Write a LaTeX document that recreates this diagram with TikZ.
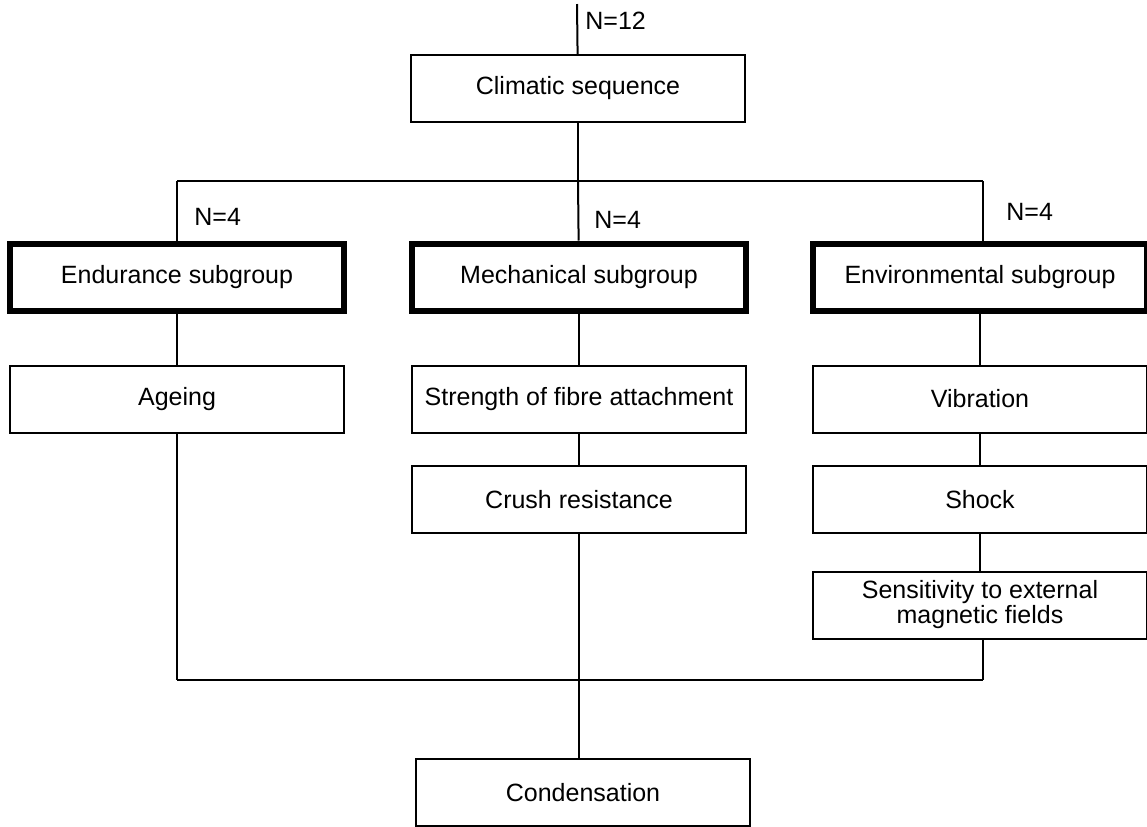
\documentclass[tikz,border=0pt]{standalone}
\usepackage{fontspec}
\setmainfont{Liberation Sans}
\usepackage{tikz}
\usetikzlibrary{positioning}

\begin{document}
\begin{tikzpicture}[x=0.5pt, y=-0.5pt,
  box/.style={rectangle, draw=black, line width=1pt, minimum width=167pt, minimum height=33.5pt, inner sep=0pt, align=center, font=\fontsize{12.5}{12.5}\selectfont},
  subbox/.style={box, line width=3pt},
  count/.style={anchor=west, inner sep=0pt, font=\fontsize{12.5}{12.5}\selectfont},
  link/.style={line width=1pt, color=black}]
\useasboundingbox (0, 0) rectangle (1147, 826);
\coordinate (top) at (577, 4);
\node (n12) [count] at (585, 21) {N=12};
\node (clim) [box] at (578, 88.5) {Climatic sequence};
\coordinate (splitL) at (177, 181);
\coordinate (splitM) at (578, 181);
\coordinate (splitR) at (983, 181);
\node (nendu) [count] at (194, 217) {N=4};
\node (nmech) [count] at (594, 220) {N=4};
\node (nenvi) [count] at (1006, 212) {N=4};
\node (endu) [subbox] at (177, 277) {Endurance subgroup};
\node (mech) [subbox] at (579, 277) {Mechanical subgroup};
\node (envi) [subbox] at (980, 277) {Environmental subgroup};
\node (ageing) [box] at (177, 399) {Ageing};
\node (strength) [box] at (579, 399) {Strength of fibre attachment};
\node (crush) [box] at (579, 499.5) {Crush resistance};
\node (vibration) [box] at (980, 399) {Vibration};
\node (shock) [box] at (980, 499.5) {Shock};
\node (sensitivity) [box] at (980, 605) {Sensitivity to external\\magnetic fields};
\coordinate (joinL) at (177, 680);
\coordinate (joinM) at (579, 680);
\coordinate (joinR) at (983, 680);
\node (cond) [box] at (583, 792.5) {Condensation};
\draw [link] (top) -- (clim);
\draw [link] (clim) -- (splitM);
\draw [link] (splitL) -- (splitR);
\draw [link] (splitL) -- (endu);
\draw [link] (splitM) -- (mech);
\draw [link] (splitR) -- (splitR |- envi.north);
\draw [link] (endu) -- (ageing);
\draw [link] (mech) -- (strength);
\draw [link] (strength) -- (crush);
\draw [link] (envi) -- (vibration);
\draw [link] (vibration) -- (shock);
\draw [link] (shock) -- (sensitivity);
\draw [link] (ageing) -- (joinL);
\draw [link] (crush) -- (joinM);
\draw [link] (sensitivity.south -| joinR) -- (joinR);
\draw [link] (joinL) -- (joinR);
\draw [link] (joinM) -- (joinM |- cond.north);
\end{tikzpicture}
\end{document}
